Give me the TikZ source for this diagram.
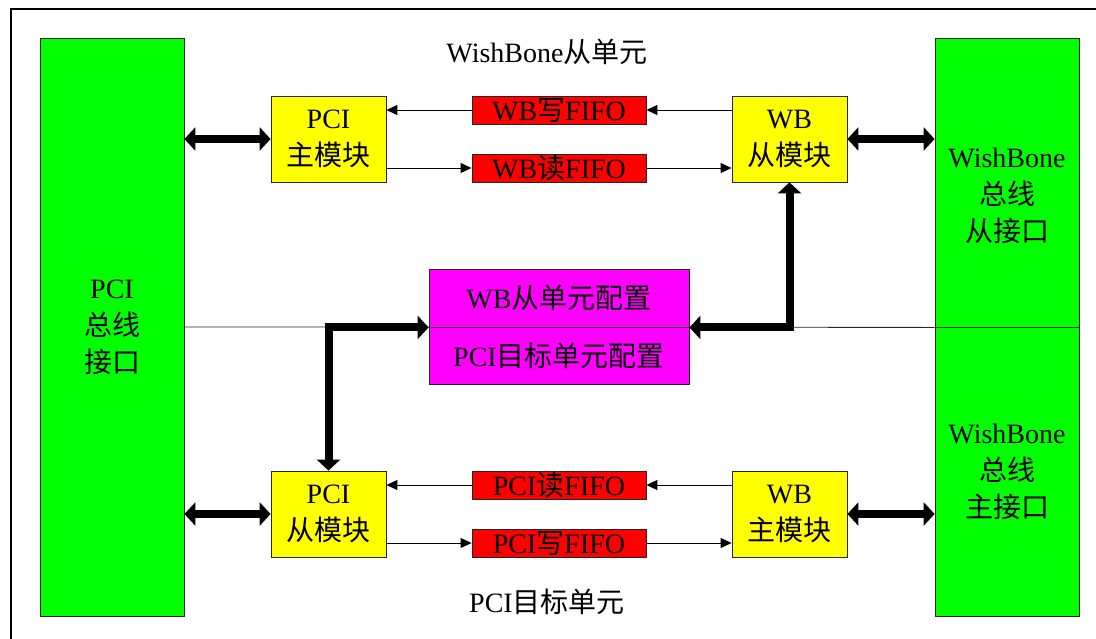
\documentclass[tikz,border=0pt]{standalone}
\usepackage{fontspec}
\setmainfont{Liberation Serif}
\newfontfamily\cjk{Noto Sans CJK SC}
\newcommand{\zh}[1]{{\cjk #1}}
\usetikzlibrary{arrows.meta}
\definecolor{busgreen}{RGB}{0,255,0}
\definecolor{modyellow}{RGB}{255,255,0}
\definecolor{fifored}{RGB}{255,0,0}
\definecolor{cfgpink}{RGB}{255,0,255}

\begin{document}
\begin{tikzpicture}[x=1pt,y=-1pt,
  box/.style={draw=black!85, line width=0.8pt, inner sep=0pt, align=center,
              font=\fontsize{28}{37}\selectfont},
  busbox/.style={box, fill=busgreen, minimum width=144pt, minimum height=#1},
  modbox/.style={box, fill=modyellow, minimum width=115pt, minimum height=86pt},
  fifobox/.style={box, fill=fifored, minimum width=174pt, minimum height=28pt},
  cfgbox/.style={box, fill=cfgpink, minimum width=260pt, minimum height=57.5pt},
  caption/.style={inner sep=0pt, font=\fontsize{28}{37}\selectfont},
  bustext/.style={inner sep=0pt, align=center, font=\fontsize{28}{37}\selectfont},
  thinarrow/.style={draw=black, line width=0.9pt, -{Triangle[length=11pt,width=10pt]}},
  fatarrow/.style={line width=8pt, line join=miter,
    {Triangle[length=11pt,width=23pt]}-{Triangle[length=11pt,width=23pt]}},
]
\useasboundingbox (0,0) rectangle (1096,638);

% frame
\draw[line width=2pt] (1097,9) -- (11,9) -- (11,639);

% bus interfaces
\node[busbox=578pt] (pcibus) at (112,327) {PCI\\\zh{总线}\\\zh{接口}};
\node[busbox=289pt] (wbslaveif) at (1007,182.5) {};
\node[busbox=289pt] (wbmasterif) at (1007,471.5) {};
\node[bustext] (wbslavetxt) at (1007,196) {WishBone\\\zh{总线}\\\zh{从接口}};
\node[bustext] (wbmastertxt) at (1007,472) {WishBone\\\zh{总线}\\\zh{主接口}};

% shared configuration line
\draw[draw=black!85, line width=0.8pt] (pcibus.east) -- (wbslaveif.south west);

% WishBone slave unit
\node[caption] (wbunit) at (547,52) {WishBone\zh{从单元}};
\node[modbox] (pcim) at (328.5,139) {PCI\\\zh{主模块}};
\node[fifobox] (wbw) at (559,110) {WB\zh{写}FIFO};
\node[fifobox] (wbr) at (559,168) {WB\zh{读}FIFO};
\node[modbox] (wbs) at (789.5,139) {WB\\\zh{从模块}};

% configuration
\node[cfgbox] (cfgwb) at (559,298.25) {WB\zh{从单元配置}};
\node[cfgbox] (cfgpci) at (559,355.75) {PCI\zh{目标单元配置}};

% PCI target unit
\node[modbox] (pcis) at (328.5,514) {PCI\\\zh{从模块}};
\node[fifobox] (pcir) at (559,485) {PCI\zh{读}FIFO};
\node[fifobox] (pciw) at (559,543) {PCI\zh{写}FIFO};
\node[modbox] (wbm) at (789.5,514) {WB\\\zh{主模块}};
\node[caption] (pciunit) at (547,602) {PCI\zh{目标单元}};

% data paths, upper half
\draw[thinarrow] (wbs.west |- wbw.east) -- (wbw.east);
\draw[thinarrow] (wbw.west) -- (pcim.east |- wbw.west);
\draw[thinarrow] (pcim.east |- wbr.west) -- (wbr.west);
\draw[thinarrow] (wbr.east) -- (wbs.west |- wbr.east);

% data paths, lower half
\draw[thinarrow] (wbm.west |- pcir.east) -- (pcir.east);
\draw[thinarrow] (pcir.west) -- (pcis.east |- pcir.west);
\draw[thinarrow] (pcis.east |- pciw.west) -- (pciw.west);
\draw[thinarrow] (pciw.east) -- (wbm.west |- pciw.east);

% bus connections
\draw[fatarrow] (pcim.west -| pcibus.east) -- (pcim.west);
\draw[fatarrow] (wbs.east) -- (wbs.east -| wbslaveif.west);
\draw[fatarrow] (pcis.west -| pcibus.east) -- (pcis.west);
\draw[fatarrow] (wbm.east) -- (wbm.east -| wbmasterif.west);

% configuration access
\draw[fatarrow] (wbs.south) -- (wbs.south |- cfgwb.south east) -- (cfgwb.south east);
\draw[fatarrow] (cfgwb.south west) -- (pcis.north |- cfgwb.south west) -- (pcis.north);
\end{tikzpicture}
\end{document}
